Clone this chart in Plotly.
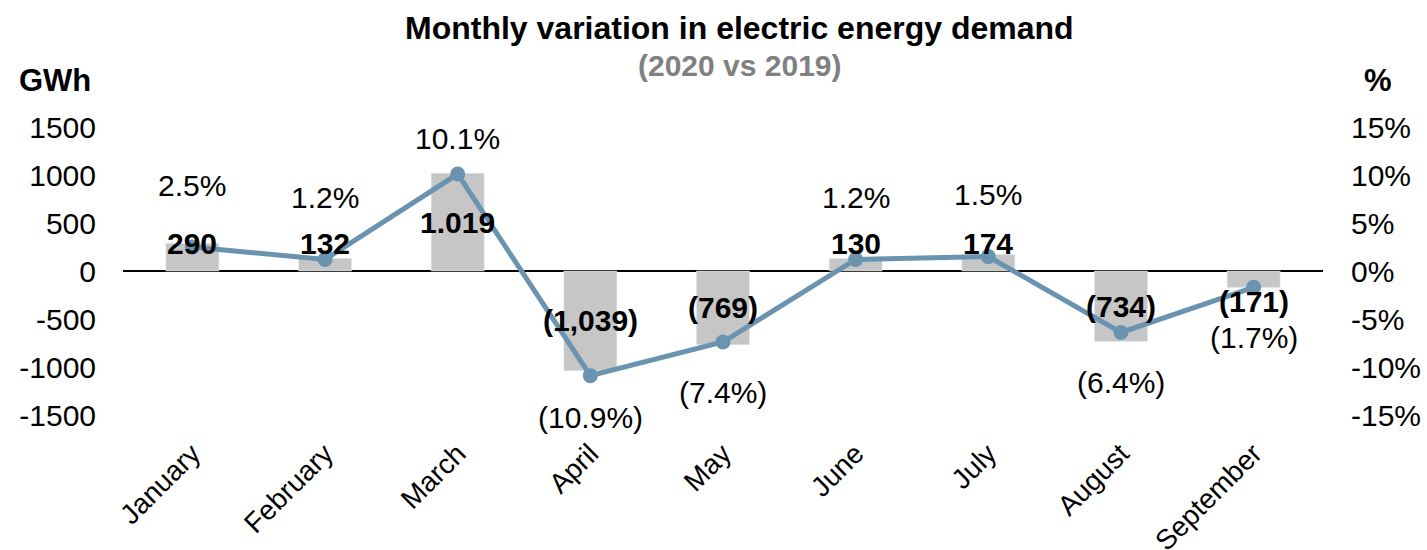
import plotly.graph_objects as go

months = ["January", "February", "March", "April", "May", "June", "July", "August", "September"]
gwh = [290, 132, 1019, -1039, -769, 130, 174, -734, -171]
pct = [2.5, 1.2, 10.1, -10.9, -7.4, 1.2, 1.5, -6.4, -1.7]
gwh_labels = ["290", "132", "1.019", "(1,039)", "(769)", "130", "174", "(734)", "(171)"]
pct_labels = ["2.5%", "1.2%", "10.1%", "(10.9%)", "(7.4%)", "1.2%", "1.5%", "(6.4%)", "(1.7%)"]
left_ticks = [1500, 1000, 500, 0, -500, -1000, -1500]
right_ticks = [15, 10, 5, 0, -5, -10, -15]

FONT = "Liberation Sans, Arial, sans-serif"
fig = go.Figure()
fig.add_trace(go.Bar(x=months, y=gwh, marker_color="#c6c6c6", width=0.4, yaxis="y", hoverinfo="skip"))
fig.add_trace(go.Scatter(x=months, y=pct, yaxis="y2", mode="lines+markers",
                         line=dict(color="#6a93b0", width=5),
                         marker=dict(color="#6a93b0", size=15)))

ann = []
for m, v, t in zip(months, gwh, gwh_labels):
    yc = max(v * 0.5, 290) if v >= 0 else min(v * 0.5, -320)
    ann.append(dict(x=m, y=yc, xref="x", yref="y", text="<b>" + t + "</b>", showarrow=False,
                    font=dict(size=30, color="black", family=FONT), yanchor="middle"))
for m, p, t in zip(months, pct, pct_labels):
    if p >= 0:
        shift = 36 if p > 5 else 62
    else:
        shift = -42 if p < -10 else -50
    ann.append(dict(x=m, y=p, xref="x", yref="y2", text=t, showarrow=False, yshift=shift,
                    font=dict(size=30, color="black", family=FONT), yanchor="middle"))

H = 288.0
def py(pix):
    return (415 - pix) / H

ann.append(dict(x=0.514, y=py(28), xref="paper", yref="paper", xanchor="center",
                text="<b>Monthly variation in electric energy demand</b>",
                showarrow=False, yanchor="middle", font=dict(size=32, color="black", family=FONT)))
ann.append(dict(x=0.514, y=py(65), xref="paper", yref="paper", xanchor="center",
                text="<b>(2020 vs 2019)</b>",
                showarrow=False, yanchor="middle", font=dict(size=30, color="#808080", family=FONT)))
ann.append(dict(x=-0.0567, y=py(80), xref="paper", yref="paper", xanchor="center",
                text="<b>GWh</b>",
                showarrow=False, yanchor="middle", font=dict(size=31, color="black", family=FONT)))
ann.append(dict(x=1.046, y=py(80), xref="paper", yref="paper", xanchor="center",
                text="<b>%</b>",
                showarrow=False, yanchor="middle", font=dict(size=31, color="black", family=FONT)))

fig.update_layout(
    width=1427, height=550,
    margin=dict(l=123, r=104, t=127, b=135),
    paper_bgcolor="white", plot_bgcolor="white",
    showlegend=False,
    font=dict(family=FONT, color="black"),
    xaxis=dict(tickangle=-45, tickfont=dict(size=28), showgrid=False, showline=False,
               ticks="outside", ticklen=10, tickcolor="rgba(0,0,0,0)",
               zeroline=False, automargin=False),
    yaxis=dict(range=[-1500, 1500], tickvals=left_ticks, ticktext=[str(v) for v in left_ticks],
               tickfont=dict(size=30), showgrid=False, zeroline=True, zerolinecolor="black",
               zerolinewidth=2, showline=False, ticks="outside", ticklen=20,
               tickcolor="rgba(0,0,0,0)", automargin=False),
    yaxis2=dict(range=[-15, 15], tickvals=right_ticks, ticktext=[f"{v}%" for v in right_ticks],
                overlaying="y", side="right", tickfont=dict(size=30), showgrid=False,
                zeroline=False, showline=False, ticks="outside", ticklen=21,
                tickcolor="rgba(0,0,0,0)", automargin=False),
    annotations=ann,
)
fig.write_html("out.html", config={"displayModeBar": False},
               post_script="document.body.style.margin='0';")
